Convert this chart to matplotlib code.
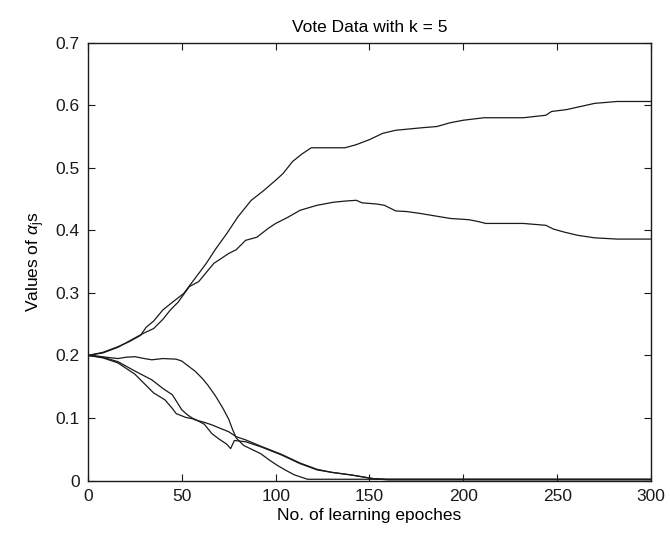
import numpy as np
import matplotlib
matplotlib.use('Agg')
import matplotlib.pyplot as plt

# values (epoch, alpha)
epochs_a = [0, 8, 16, 22, 28, 31, 35, 40, 45, 51, 55, 63, 68, 74, 80, 87, 93, 100, 104, 109, 114, 119,
            137, 143, 150, 157, 164, 178, 186, 193, 200, 211, 232, 244, 247, 255, 261, 270, 282, 300]
alpha_a = [0.200, 0.205, 0.214, 0.222, 0.232, 0.245, 0.255, 0.273, 0.285, 0.299, 0.315, 0.347, 0.370,
           0.395, 0.422, 0.448, 0.462, 0.480, 0.491, 0.510, 0.522, 0.532, 0.532, 0.537, 0.545, 0.555,
           0.560, 0.564, 0.566, 0.572, 0.576, 0.580, 0.580, 0.584, 0.590, 0.593, 0.597, 0.603, 0.606, 0.606]

epochs_b = [0, 8, 16, 25, 30, 35, 40, 44, 48, 54, 59, 67, 75, 79, 84, 90, 96, 100, 106, 113, 122, 131,
            138, 143, 146, 154, 158, 164, 170, 177, 193, 203, 208, 212, 232, 244, 248, 254, 261, 270, 282, 300]
alpha_b = [0.200, 0.204, 0.213, 0.228, 0.236, 0.243, 0.258, 0.273, 0.285, 0.310, 0.318, 0.347, 0.363,
           0.369, 0.384, 0.389, 0.403, 0.411, 0.420, 0.432, 0.440, 0.445, 0.447, 0.448, 0.444, 0.442,
           0.440, 0.431, 0.430, 0.427, 0.419, 0.417, 0.414, 0.411, 0.411, 0.408, 0.402, 0.397, 0.392,
           0.388, 0.386, 0.386]

epochs_c = [0, 5, 10, 16, 20, 25, 30, 34, 40, 47, 50, 53, 57, 61, 64, 68, 72, 75, 77, 79, 83, 92,
            97, 101, 105, 110, 117, 130, 300]
alpha_c = [0.200, 0.199, 0.197, 0.195, 0.197, 0.198, 0.195, 0.193, 0.195, 0.194, 0.191, 0.184, 0.175,
           0.163, 0.152, 0.135, 0.115, 0.098, 0.082, 0.068, 0.056, 0.043, 0.032, 0.024, 0.017, 0.009,
           0.002, 0.002, 0.002]

epochs_d = [0, 8, 16, 25, 30, 35, 41, 45, 47, 52, 57, 62, 66, 70, 74, 76, 78, 84, 92, 103, 113, 122,
            130, 140, 146, 152, 160, 300]
alpha_d = [0.200, 0.196, 0.188, 0.170, 0.155, 0.140, 0.129, 0.115, 0.107, 0.101, 0.098, 0.090, 0.075,
           0.066, 0.058, 0.051, 0.064, 0.062, 0.054, 0.041, 0.027, 0.017, 0.013, 0.009, 0.006, 0.003,
           0.002, 0.002]

epochs_e = [0, 8, 16, 25, 34, 40, 45, 50, 53, 57, 62, 66, 70, 75, 79, 84, 92, 103, 113, 122, 130,
            140, 146, 152, 160, 300]
alpha_e = [0.200, 0.197, 0.190, 0.175, 0.161, 0.147, 0.137, 0.113, 0.105, 0.097, 0.093, 0.089, 0.084,
           0.078, 0.070, 0.065, 0.055, 0.042, 0.028, 0.018, 0.013, 0.009, 0.006, 0.003, 0.001, 0.001]

xticks = [0, 50, 100, 150, 200, 250, 300]
yticks = [0, 0.1, 0.2, 0.3, 0.4, 0.5, 0.6, 0.7]

plt.rcParams['font.family'] = ['Liberation Sans', 'DejaVu Sans']
plt.rcParams['mathtext.fontset'] = 'custom'
plt.rcParams['mathtext.rm'] = 'Liberation Sans'
plt.rcParams['mathtext.it'] = 'Liberation Sans:italic'

fig = plt.figure(figsize=(6.70, 5.41), dpi=100)
ax = fig.add_axes([0.1313, 0.1118, 0.8403, 0.8093])

for xs, ys in [(epochs_a, alpha_a), (epochs_b, alpha_b), (epochs_c, alpha_c),
               (epochs_d, alpha_d), (epochs_e, alpha_e)]:
    ax.plot(xs, ys, color='#1a1a1a', lw=0.9)

ax.set_xlim(0, 300)
ax.set_ylim(0, 0.7)
ax.set_xticks(xticks)
ax.set_yticks(yticks)
ax.set_yticklabels(['0'] + [f'{v:.1f}' for v in yticks[1:]])
ax.tick_params(direction='in', top=True, right=True, length=5, width=0.8,
               labelsize=12.5, colors='#1a1a1a', pad=6)
for s in ax.spines.values():
    s.set_linewidth(1.0)
    s.set_color('#1a1a1a')

ax.set_title('Vote Data with k = 5', fontsize=12.5, pad=8)
ax.set_xlabel('No. of learning epoches', fontsize=12.5, labelpad=3)
ax.set_ylabel(r'Values of $\alpha_{\rm j}$s', fontsize=12.5, labelpad=6)

plt.savefig('out.png', dpi=100)
